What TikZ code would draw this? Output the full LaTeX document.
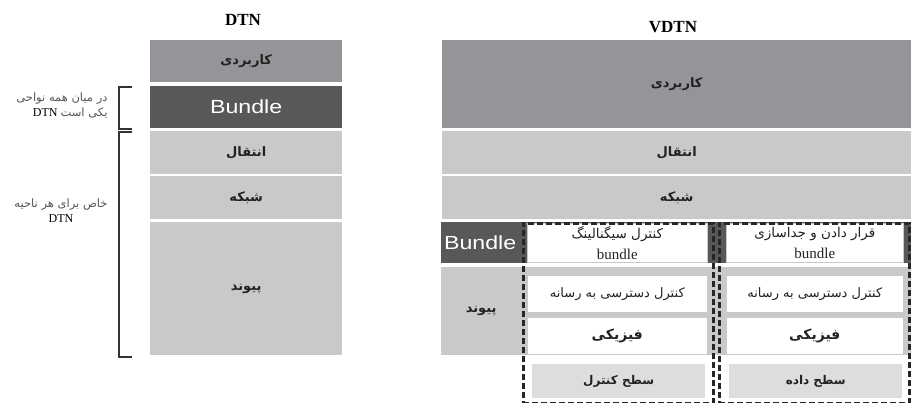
\documentclass[tikz,border=0pt]{standalone}
\usepackage{fontspec}
\setmainfont{Liberation Serif}
\newfontfamily\fa[Script=Arabic]{DejaVu Sans}
\newfontfamily\bunfont[FakeStretch=1.22]{Liberation Sans}
\TeXXeTstate=1
\definecolor{gmid}{HTML}{949599}
\definecolor{gdark}{HTML}{58585A}
\definecolor{glight}{HTML}{C8C9CB}
\definecolor{glighter}{HTML}{DCDDDF}
\definecolor{txt}{HTML}{222222}
\definecolor{lbl}{HTML}{555555}
\tikzset{
  lay/.style={rectangle, inner sep=0pt, anchor=north west, text=txt, align=center,
    font=\fa\bfseries\fontsize{13}{15}\selectfont},
  sz/.style 2 args={minimum width=#1pt, minimum height=#2pt},
  bun/.style={lay, fill=gdark, text=white, font=\bunfont\fontsize{19}{21}\selectfont},
  wbox/.style={lay, fill=white, draw=glight, line width=0.6pt, font=\fa\bfseries\fontsize{14}{16}\selectfont},
  wreg/.style={wbox, font=\fa\fontsize{13}{16}\selectfont},
  wtwo/.style={wbox, font=\fa\fontsize{13.5}{21}\selectfont},
  plane/.style={lay, fill=glighter, font=\fa\bfseries\fontsize{12}{15}\selectfont},
  dash box/.style={rectangle, inner sep=0pt, anchor=north west, draw=black!85, line width=2.8pt, dash pattern=on 6pt off 3pt},
  brk/.style={draw=black!80, line width=1.5pt},
  title/.style={font=\bfseries\fontsize{17}{19}\selectfont},
  side/.style={text=lbl, font=\fontsize{12}{15}\selectfont}
}
\newcommand{\fasmall}{\fa\fontsize{11.5}{15}\selectfont}
\newcommand{\latbun}{\rmfamily\mdseries\fontsize{15}{15}\selectfont}
\begin{document}
\begin{tikzpicture}[x=1pt,y=-1pt]
\useasboundingbox (0,0) rectangle (911,403);
% titles
\node[title] (tdtn) at (243,20) {DTN};
\node[title] (tvdtn) at (673,27) {VDTN};
% DTN stack
\node[lay, sz={192}{42}, fill=gmid] (d1) at (150,40) {\beginR کاربردی\endR};
\node[bun, sz={192}{42}] (d2) at (150,86) {Bundle};
\node[lay, sz={192}{43}, fill=glight] (d3) at (150,131) {\beginR انتقال\endR};
\node[lay, sz={192}{43}, fill=glight] (d4) at (150,176) {\beginR شبکه\endR};
\node[lay, sz={192}{133}, fill=glight] (d5) at (150,222) {\beginR پیوند\endR};
% brackets
\draw[brk] (132,87) -- (119,87) -- (119,129) -- (132,129);
\draw[brk] (132,132) -- (119,132) -- (119,357) -- (132,357);
% left labels
\node[side, anchor=east, align=right] (l1) at (111,105)
  {{\fasmall\beginR در میان همه نواحی\endR}\\
   {\color{black}DTN} {\fasmall\beginR یکی است\endR}};
\node[side, align=center] (l2) at (61,211)
  {{\fasmall\beginR خاص برای هر ناحیه\endR}\\
   {\color{black}DTN}};
% VDTN stack
\node[lay, sz={469}{88}, fill=gmid] (v1) at (442,40) {\beginR کاربردی\endR};
\node[lay, sz={469}{43}, fill=glight] (v2) at (442,131) {\beginR انتقال\endR};
\node[lay, sz={469}{43}, fill=glight] (v3) at (442,176) {\beginR شبکه\endR};
\fill[gdark] (441,222) rectangle (911,263);
\fill[glight] (441,267) rectangle (911,355);
\node[bun, sz={78}{41}] (vb) at (441,222) {Bundle};
\node[lay, sz={80}{88}] (vl) at (441,267) {\beginR پیوند\endR};
% control plane column
\node[wtwo, sz={180}{39}] (c1) at (527,223)
  {\beginR کنترل سیگنالینگ\endR\\{\latbun bundle}};
\node[wreg, sz={180}{37}] (c2) at (527,275) {\beginR کنترل دسترسی به رسانه\endR};
\node[wbox, sz={180}{37}] (c3) at (527,317) {\beginR فیزیکی\endR};
\node[plane, sz={173}{34}] (c4) at (532,364) {\beginR سطح کنترل\endR};
% data plane column
\node[wtwo, sz={177}{39}] (p1) at (726,223)
  {\beginR قرار دادن و جداسازی\endR\\{\latbun bundle}};
\node[wreg, sz={177}{37}] (p2) at (726,275) {\beginR کنترل دسترسی به رسانه\endR};
\node[wbox, sz={177}{37}] (p3) at (726,317) {\beginR فیزیکی\endR};
\node[plane, sz={173}{34}] (p4) at (729,364) {\beginR سطح داده\endR};
% dashed plane outlines
\node[dash box, sz={190}{180}] (cp) at (522,222) {};
\node[dash box, sz={190}{180}] (dp) at (718,222) {};
\end{tikzpicture}
\end{document}
